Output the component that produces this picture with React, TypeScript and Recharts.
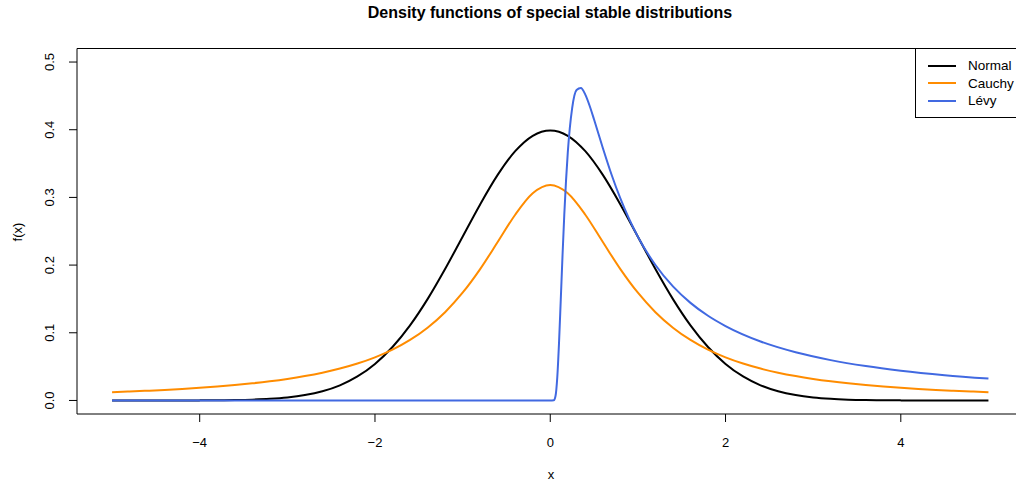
import React from "react";
import { LineChart, Line, XAxis, YAxis, ReferenceLine } from "recharts";

const gridX = [
  -5, -4.8, -4.6, -4.4, -4.2, -4, -3.8, -3.6, -3.4, -3.2, -3, -2.8, -2.6, -2.4, -2.2, -2, -1.8, -1.6, -1.4, -1.2, -1,
  -0.8, -0.6, -0.4, -0.2, 0, 0.2, 0.4, 0.6, 0.8, 1, 1.2, 1.4, 1.6, 1.8, 2, 2.2, 2.4, 2.6, 2.8, 3, 3.2, 3.4, 3.6, 3.8,
  4, 4.2, 4.4, 4.6, 4.8, 5,
];

const normalY = [
  0, 0, 0.00001, 0.00003, 0.00006, 0.00013, 0.00029, 0.00061, 0.00123, 0.00238, 0.00443, 0.00792, 0.01358, 0.02239,
  0.03547, 0.05399, 0.07895, 0.11092, 0.14973, 0.19419, 0.24197, 0.28969, 0.33322, 0.36827, 0.39104, 0.39894, 0.39104,
  0.36827, 0.33322, 0.28969, 0.24197, 0.19419, 0.14973, 0.11092, 0.07895, 0.05399, 0.03547, 0.02239, 0.01358, 0.00792,
  0.00443, 0.00238, 0.00123, 0.00061, 0.00029, 0.00013, 0.00006, 0.00003, 0.00001, 0, 0,
];

const cauchyY = [
  0.01224, 0.01324, 0.01436, 0.01563, 0.01708, 0.01872, 0.02062, 0.0228, 0.02534, 0.02832, 0.03183, 0.03601, 0.04102,
  0.04709, 0.05451, 0.06366, 0.07507, 0.08941, 0.10754, 0.13045, 0.15915, 0.19409, 0.23405, 0.27441, 0.30607, 0.31831,
  0.30607, 0.27441, 0.23405, 0.19409, 0.15915, 0.13045, 0.10754, 0.08941, 0.07507, 0.06366, 0.05451, 0.04709, 0.04102,
  0.03601, 0.03183, 0.02832, 0.02534, 0.0228, 0.02062, 0.01872, 0.01708, 0.01563, 0.01436, 0.01324, 0.01224,
];

const levyX = [
  -5, 0, 0.02, 0.04, 0.06, 0.08, 0.1, 0.12, 0.14, 0.16, 0.18, 0.2, 0.25, 0.3, 0.35, 0.4, 0.45, 0.5, 0.6, 0.7, 0.8, 0.9,
  1, 1.2, 1.4, 1.6, 1.8, 2, 2.4, 2.8, 3.2, 3.6, 4, 4.5, 5,
];

const levyY = [
  0, 0, 0, 0.0002, 0.0065, 0.034, 0.085, 0.1488, 0.2141, 0.2739, 0.3248, 0.3661, 0.4319, 0.4586, 0.4617, 0.4518,
  0.4351, 0.4151, 0.3731, 0.3335, 0.2984, 0.2681, 0.242, 0.2001, 0.1685, 0.1442, 0.1251, 0.1099, 0.0871, 0.0712,
  0.0596, 0.0508, 0.044, 0.0374, 0.0323,
];

const xTicks = [-4, -2, 0, 2, 4];
const yTicks = [0, 0.1, 0.2, 0.3, 0.4, 0.5];

const series = [
  { name: "Normal", color: "#000000", data: gridX.map((x, i) => ({ x, y: normalY[i] })) },
  { name: "Cauchy", color: "#FF8C00", data: gridX.map((x, i) => ({ x, y: cauchyY[i] })) },
  { name: "Lévy", color: "#4169E1", data: levyX.map((x, i) => ({ x, y: levyY[i] })) },
];

const font = "'Liberation Sans', Arial, Helvetica, sans-serif";

function YTick(props: any) {
  const { y, payload } = props;
  return (
    <text
      x={50}
      y={y}
      transform={`rotate(-90 50 ${y})`}
      textAnchor="middle"
      dominantBaseline="central"
      fontSize={13}
      fontFamily={font}
      fill="#000"
    >
      {payload.value.toFixed(1)}
    </text>
  );
}

function XTick(props: any) {
  const { x, payload } = props;
  const v = payload.value;
  return (
    <text x={x} y={442} textAnchor="middle" dominantBaseline="central" fontSize={13} fontFamily={font} fill="#000">
      {v < 0 ? `\u2212${Math.abs(v)}` : String(v)}
    </text>
  );
}

export default function App() {
  return (
    <div
      style={{
        position: "absolute",
        left: 0,
        top: 0,
        width: 1016,
        height: 484,
        overflow: "hidden",
        background: "#fff",
        fontFamily: font,
      }}
    >
      <div
        style={{
          position: "absolute",
          top: 4,
          left: 0,
          width: 1100,
          textAlign: "center",
          fontWeight: "bold",
          fontSize: 16,
          lineHeight: "18px",
        }}
      >
        Density functions of special stable distributions
      </div>
      <LineChart width={1040} height={484} margin={{ top: 48.5, right: 16.5, bottom: 0, left: 0 }}>
        <XAxis
          dataKey="x"
          type="number"
          domain={[-5.4, 5.4]}
          allowDataOverflow
          ticks={xTicks}
          tick={<XTick />}
          tickSize={8}
          height={70}
          stroke="#000"
        />
        <YAxis
          type="number"
          domain={[-0.02, 0.52]}
          allowDataOverflow
          ticks={yTicks}
          tick={<YTick />}
          tickSize={8}
          width={77}
          stroke="#000"
        />
        <ReferenceLine y={0.52} stroke="#000" ifOverflow="visible" />
        {series.map((s) => (
          <Line
            key={s.name}
            data={s.data}
            dataKey="y"
            type="monotone"
            stroke={s.color}
            strokeWidth={2}
            dot={false}
            isAnimationActive={false}
          />
        ))}
      </LineChart>
      <div style={{ position: "absolute", left: 466, top: 467, width: 170, textAlign: "center", fontSize: 13 }}>x</div>
      <div
        style={{
          position: "absolute",
          left: 17,
          top: 232,
          fontSize: 13,
          transform: "translate(-50%, -50%) rotate(-90deg)",
        }}
      >
        f(x)
      </div>
      <div
        style={{
          position: "absolute",
          left: 915,
          top: 48,
          width: 120,
          height: 70,
          border: "1px solid #000",
          background: "#fff",
          boxSizing: "border-box",
        }}
      >
        {series.map((s, i) => (
          <div key={s.name} style={{ position: "absolute", left: 12, top: 8 + i * 17.5, height: 17, display: "flex", alignItems: "center" }}>
            <div style={{ width: 28, height: 2, background: s.color }} />
            <span style={{ marginLeft: 12, fontSize: 13.5 }}>{s.name}</span>
          </div>
        ))}
      </div>
    </div>
  );
}
